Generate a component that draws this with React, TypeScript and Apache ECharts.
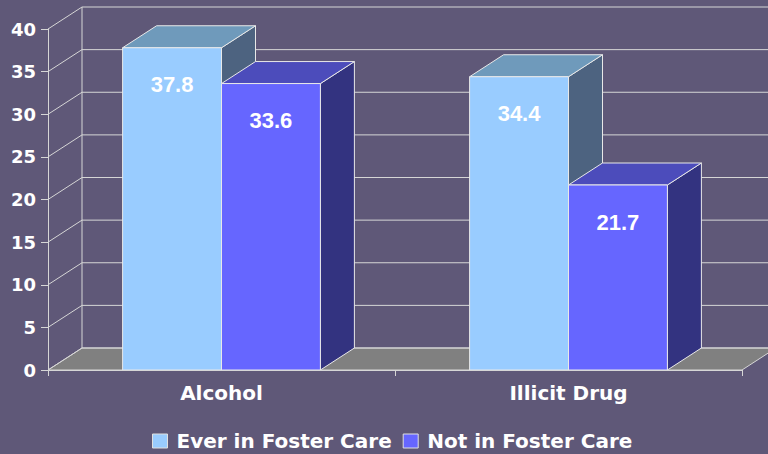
import React, { useEffect, useRef } from 'react';
import * as echarts from 'echarts';

// ---- data ----
const categories = ['Alcohol', 'Illicit Drug'];
const seriesNames = ['Ever in Foster Care', 'Not in Foster Care'];
const everValues = [37.8, 34.4];
const notValues = [33.6, 21.7];
const yMin = 0;
const yMax = 40;
const yStep = 5;

// ---- style / geometry ----
const DX = 34;
const DY = 22;
const BAR_FRAC = 0.285;
const LABEL_OFFSET = 37;
const GRID_COLOR = '#d6d6d6';
const BG = '#5f5878';
const FACES = [
  { front: '#99ccff', top: '#6f9abb', side: '#4d6380' },
  { front: '#6666ff', top: '#4c4cbb', side: '#333380' },
];
const SANS = '"DejaVu Sans", Verdana, sans-serif';

function makeBarRender(idx: number) {
  return (params: any, api: any) => {
    const cat = api.value(0);
    const val = api.value(1);
    const top = api.coord([cat, val]);
    const base = api.coord([cat, yMin]);
    const band = api.size([1, 0])[0];
    const w = band * BAR_FRAC;
    const x0 = idx === 0 ? top[0] - w : top[0];
    const x1 = x0 + w;
    const tY = top[1];
    const bY = base[1];
    const c = FACES[idx];
    const edge = { stroke: '#e8e8e8', lineWidth: 1 };
    return {
      type: 'group',
      children: [
        {
          type: 'polygon',
          shape: { points: [[x1, tY], [x1 + DX, tY - DY], [x1 + DX, bY - DY], [x1, bY]] },
          style: { fill: c.side, ...edge },
        },
        {
          type: 'polygon',
          shape: { points: [[x0, tY], [x0 + DX, tY - DY], [x1 + DX, tY - DY], [x1, tY]] },
          style: { fill: c.top, ...edge },
        },
        {
          type: 'rect',
          shape: { x: x0, y: tY, width: w, height: bY - tY },
          style: { fill: c.front, ...edge },
        },
        {
          type: 'text',
          x: (x0 + x1) / 2,
          y: tY + LABEL_OFFSET,
          style: {
            text: Number(val).toFixed(1),
            fill: '#ffffff',
            font: 'bold 22px "Liberation Sans", Arial, sans-serif',
            align: 'center',
            verticalAlign: 'middle',
          },
        },
      ],
    };
  };
}

function wallRender(params: any, api: any) {
  const cs = params.coordSys;
  const left = cs.x;
  const right = cs.x + cs.width;
  const y0 = api.coord([0, yMin])[1];
  const yTop = api.coord([0, yMax])[1];
  const line = { stroke: GRID_COLOR, lineWidth: 1 };
  const children: any[] = [
    {
      type: 'polygon',
      shape: { points: [[left, y0], [right, y0], [right + DX, y0 - DY], [left + DX, y0 - DY]] },
      style: { fill: '#808080', ...line },
    },
    {
      type: 'line',
      shape: { x1: left + DX, y1: y0 - DY, x2: left + DX, y2: yTop - DY },
      style: line,
    },
  ];
  for (let v = yMin; v <= yMax; v += yStep) {
    const y = api.coord([0, v])[1];
    children.push({
      type: 'line',
      shape: { x1: left, y1: y, x2: left + DX, y2: y - DY },
      style: line,
    });
    children.push({
      type: 'line',
      shape: { x1: left + DX, y1: y - DY, x2: right + DX + 40, y2: y - DY },
      style: line,
    });
  }
  return { type: 'group', children };
}

export default function App() {
  const ref = useRef<HTMLDivElement>(null);
  useEffect(() => {
    if (!ref.current) return;
    const chart = echarts.init(ref.current, undefined, { renderer: 'svg' });
    const axisText = { color: '#ffffff', fontWeight: 'bold' as const, fontFamily: SANS };
    chart.setOption({
      animation: false,
      backgroundColor: BG,
      grid: { left: 48, right: 26, top: 29, bottom: 84 },
      legend: {
        data: seriesNames,
        left: 152,
        top: 431,
        padding: 0,
        itemWidth: 15,
        itemHeight: 14,
        itemGap: 11,
        icon: 'rect',
        itemStyle: { borderColor: '#e0e0e0', borderWidth: 1 },
        textStyle: { ...axisText, fontSize: 20, padding: [0, 0, 0, 4] },
      },
      xAxis: {
        type: 'category',
        data: categories,
        axisLine: { lineStyle: { color: GRID_COLOR, width: 1 } },
        axisTick: { show: true, length: 6, lineStyle: { color: GRID_COLOR } },
        axisLabel: { ...axisText, fontSize: 20, margin: 13 },
        splitLine: { show: false },
        z: 5,
      },
      yAxis: {
        type: 'value',
        min: yMin,
        max: yMax,
        interval: yStep,
        axisLine: { show: true, lineStyle: { color: GRID_COLOR, width: 1 } },
        axisTick: { show: true, length: 7, lineStyle: { color: GRID_COLOR } },
        axisLabel: { ...axisText, fontSize: 18, margin: 12 },
        splitLine: { show: false },
        z: 5,
      },
      series: [
        {
          type: 'custom',
          silent: true,
          z: 1,
          renderItem: wallRender,
          data: [[0, 0]],
          encode: { x: 0, y: 1 },
        },
        {
          type: 'custom',
          name: seriesNames[0],
          z: 3,
          itemStyle: { color: FACES[0].front },
          renderItem: makeBarRender(0),
          data: everValues.map((v, i) => [i, v]),
          encode: { x: 0, y: 1 },
        },
        {
          type: 'custom',
          name: seriesNames[1],
          z: 3,
          itemStyle: { color: FACES[1].front },
          renderItem: makeBarRender(1),
          data: notValues.map((v, i) => [i, v]),
          encode: { x: 0, y: 1 },
        },
      ],
    });
    return () => chart.dispose();
  }, []);
  return (
    <div
      ref={ref}
      style={{ position: 'fixed', left: 0, top: 0, width: 768, height: 454 }}
    />
  );
}
